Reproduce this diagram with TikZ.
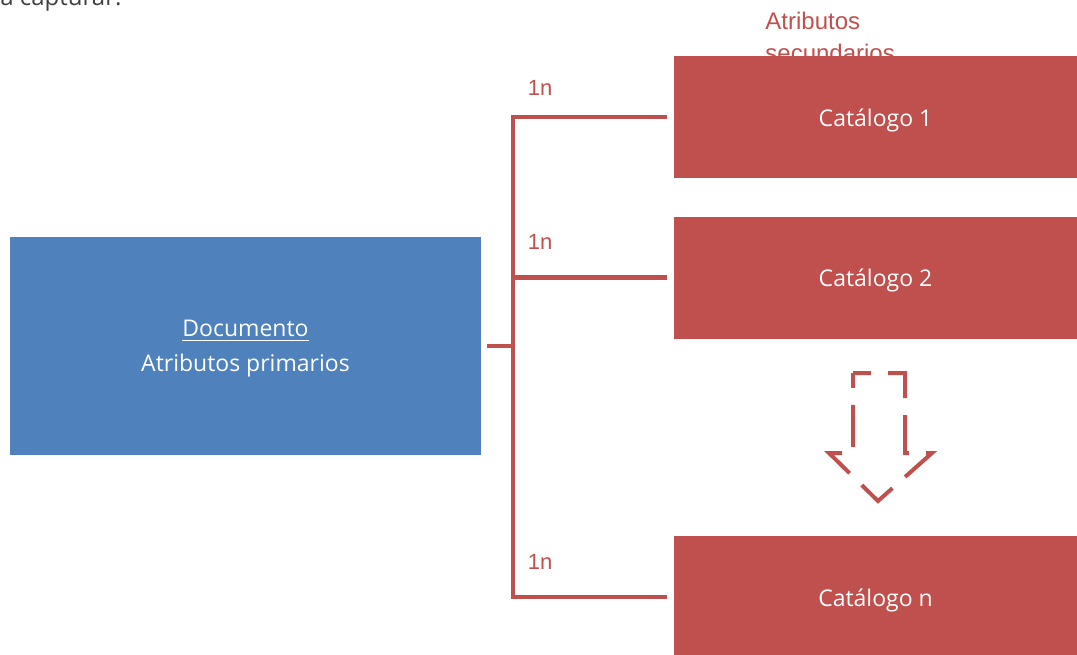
\documentclass[tikz,border=0pt]{standalone}
\usepackage{fontspec}
\setmainfont{Open Sans}
\newfontfamily\arialf{Liberation Sans}
\usepackage{tikz}
\definecolor{docblue}{HTML}{4F81BD}
\definecolor{catred}{HTML}{C0504D}
\newcommand\lowtext[1]{\raisebox{-1.5pt}[\height][\depth]{#1}}
\tikzset{
  docbox/.style={fill=docblue, text=white, inner sep=0pt, minimum width=235.5pt, minimum height=109pt, align=center, font=\fontsize{11.5}{17.5}\selectfont},
  catbox/.style={fill=catred, text=white, inner sep=0pt, minimum width=201.5pt, minimum height=61pt, font=\fontsize{11.5}{13}\selectfont},
  link/.style={draw=catred, line width=2.2pt},
  card/.style={text=catred, font=\arialf\fontsize{11}{12}\selectfont}
}

\begin{document}
\begin{tikzpicture}[x=0.5pt,y=-0.5pt]
    \useasboundingbox (0,0) rectangle (1077,654);
    \clip (0,0) rectangle (1077,654);
    \node[anchor=base west, text=black!75, font=\fontsize{12}{14}\selectfont, inner sep=0pt] (intro) at (0,5) {a capturar:};
    \node[card, anchor=west, align=left, inner sep=0pt, font=\arialf\fontsize{12}{16}\selectfont] (sec) at (765,37) {Atributos\\secundarios};
    \node[docbox] (doc) at (245.5,346) {\lowtext{\underline{Documento}}\\\lowtext{Atributos primarios}};
    \node[catbox] (c1) at (875.5,117) {\lowtext{Catálogo 1}};
    \node[catbox] (c2) at (875.5,277.5) {\lowtext{Catálogo 2}};
    \node[catbox] (cn) at (875.5,597) {\lowtext{Catálogo n}};
    \coordinate (trunk) at (513,346);
    \draw[link] ([xshift=3pt]doc.east) -- (trunk);
    \draw[link] ([xshift=-3.5pt]c1.west) -| (trunk) |- ([xshift=-3.5pt]cn.west);
    \draw[link] (trunk |- c2.west) -- ([xshift=-3.5pt]c2.west);
    \foreach \c/\y in {c1/88,c2/242,cn/562} \node[card] (m\c) at (540,\y) {1n};
    % flecha discontinua
    \draw[catred, line width=2pt, dash pattern=on 21pt off 8.5pt, dash phase=12pt]
      (853,373) -- (905,373) -- (905,453) -- (932,453) -- (878,501) -- (829,453) -- (853,453) -- cycle;
\end{tikzpicture}
\end{document}
